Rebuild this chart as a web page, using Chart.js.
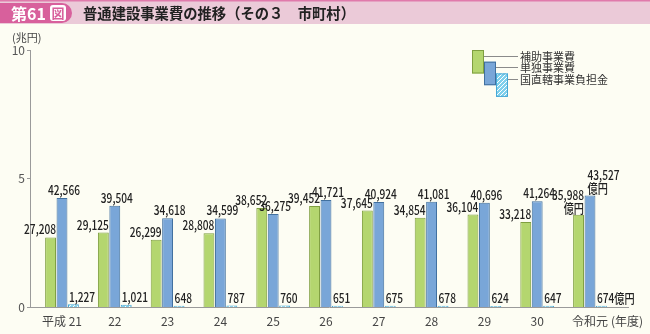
<!DOCTYPE html>
<html>
<head>
<meta charset="utf-8">
<script src="https://cdn.jsdelivr.net/npm/chart.js@4.4.1/dist/chart.umd.min.js"></script>
<style>
html, body { margin: 0; padding: 0; background: #fdfdf3; }
</style>
</head>
<body>
<canvas id="chart" width="650" height="334"></canvas>
<script>
// 億円
var years = ['平成 21', '22', '23', '24', '25', '26', '27', '28', '29', '30', '令和元'];
var hojo = [27208, 29125, 26299, 28808, 38652, 39452, 37645, 34854, 36104, 33218, 35988];
var tandoku = [42566, 39504, 34618, 34599, 36275, 41721, 40924, 41081, 40696, 41264, 43527];
var chokkatsu = [1227, 1021, 648, 787, 760, 651, 675, 678, 624, 647, 674];
var seriesNames = ['補助事業費', '単独事業費', '国直轄事業負担金'];
var yTicks = [0, 5, 10];

var FONT = '"Noto Sans CJK JP", "Noto Sans", sans-serif';
Chart.defaults.font.family = FONT;

var canvas = document.getElementById('chart');
var ctx = canvas.getContext('2d');

function makeHatch() {
    var c = document.createElement('canvas');
    c.width = 4; c.height = 4;
    var g = c.getContext('2d');
    g.fillStyle = '#7fd0ec';
    g.fillRect(0, 0, 4, 4);
    g.strokeStyle = '#ffffff';
    g.lineWidth = 1;
    g.beginPath();
    g.moveTo(0, 4); g.lineTo(4, 0);
    g.moveTo(-1, 1); g.lineTo(1, -1);
    g.moveTo(3, 5); g.lineTo(5, 3);
    g.stroke();
    return ctx.createPattern(c, 'repeat');
}
var hatch = makeHatch();

function toPoints(arr) {
    return arr.map(function (v, i) { return { x: i, y: v / 10000 }; });
}

function narrowText(c, txt, x, y, align) {
    var sx = 0.78;
    var w = c.measureText(txt).width * sx;
    var x0 = align === 'right' ? x - w : (align === 'center' ? x - w / 2 : x);
    c.save();
    c.translate(x0, y);
    c.scale(sx, 1);
    c.textAlign = 'left';
    c.fillText(txt, 0, 0);
    c.restore();
}

var frame = {
    id: 'frame',
    beforeDraw: function (chart) {
        var c = chart.ctx;
        c.save();
        c.fillStyle = '#fdfdf3';
        c.fillRect(0, 0, chart.width, chart.height);
        // title band
        c.fillStyle = '#ebcad8';
        c.fillRect(0, 0, chart.width, 24);
        c.fillStyle = '#e07aab';
        c.fillRect(0, 0, chart.width, 1.5);
        c.fillStyle = '#d8609c';
        c.beginPath();
        c.moveTo(0, 3);
        c.lineTo(62, 3);
        c.arc(62, 13, 10, -Math.PI / 2, Math.PI / 2);
        c.lineTo(0, 23);
        c.closePath();
        c.fill();
        c.fillStyle = '#ffffff';
        c.font = 'bold 16px ' + FONT;
        c.textBaseline = 'middle';
        c.fillText('第61', 11, 13.5);
        c.beginPath();
        c.roundRect(50, 5, 16, 16, 3);
        c.fill();
        c.fillStyle = '#d8609c';
        c.font = 'bold 13px ' + FONT;
        c.fillText('図', 51.5, 13.5);
        c.fillStyle = '#222222';
        c.font = 'bold 15px ' + FONT;
        c.fillText('普通建設事業費の推移（その３　市町村）', 83, 13.5, 272);
        // unit
        c.fillStyle = '#444444';
        c.font = '11px ' + FONT;
        c.fillText('(兆円)', 12, 38);
        c.restore();
    }
};

var valueLabels = {
    id: 'valueLabels',
    afterDatasetsDraw: function (chart) {
        var c = chart.ctx;
        var last = years.length - 1;
        var sources = [hojo, tandoku, chokkatsu];
        c.save();
        c.fillStyle = '#222222';
        c.font = '500 13px ' + FONT;
        c.textBaseline = 'alphabetic';
        chart.data.datasets.forEach(function (ds, d) {
            chart.getDatasetMeta(d).data.forEach(function (bar, i) {
                var txt = sources[d][i].toLocaleString('en-US');
                var left = bar.x - bar.width / 2;
                var right = bar.x + bar.width / 2;
                if (d === 0) {
                    if (i === last) {
                        narrowText(c, txt, right, bar.y - 15, 'right');
                        narrowText(c, '億円', right, bar.y - 2, 'right');
                    } else {
                        narrowText(c, txt, right, bar.y - 3, 'right');
                    }
                } else if (d === 1) {
                    if (i === last) {
                        narrowText(c, txt, left + 3, bar.y - 15, 'left');
                        narrowText(c, '億円', left + 3, bar.y - 2, 'left');
                    } else {
                        narrowText(c, txt, bar.x + 2, bar.y - 3, 'center');
                    }
                } else {
                    narrowText(c, i === last ? txt + '億円' : txt, left + 1, bar.y - 2.5, 'left');
                }
            });
        });
        // (年度)
        var xs = chart.scales.x;
        c.font = '12px ' + FONT;
        c.fillStyle = '#444444';
        c.textBaseline = 'middle';
        var lx = xs.getPixelForValue(last) + c.measureText('令和元').width / 2 + 3;
        c.fillText('(年度)', lx, 321);
        c.restore();
    }
};

var legendBoxes = {
    id: 'legendBoxes',
    afterDraw: function (chart) {
        var c = chart.ctx;
        var ds = chart.data.datasets;
        c.save();
        c.font = '11px ' + FONT;
        c.textBaseline = 'middle';
        for (var k = 0; k < ds.length; k++) {
            var bx = 472 + k * 12, by = 50 + k * 11.7;
            c.fillStyle = ds[k].backgroundColor;
            c.fillRect(bx, by, 12, 23.5);
            c.strokeStyle = ds[k].borderColor;
            c.lineWidth = 1;
            c.strokeRect(bx + 0.5, by + 0.5, 11, 22.5);
            var ly = Math.round(by + 5.5) + 0.5;
            c.strokeStyle = '#8a8a8a';
            c.beginPath();
            c.moveTo(bx + 12, ly);
            c.lineTo(518, ly);
            c.stroke();
            c.fillStyle = '#333333';
            c.fillText(seriesNames[k], 520, ly);
        }
        c.restore();
    }
};

var chart = new Chart(ctx, {
    type: 'bar',
    data: {
        datasets: [
            { label: seriesNames[0], data: toPoints(hojo), backgroundColor: '#b4d66f', borderColor: '#7f9f40', borderWidth: 1 },
            { label: seriesNames[1], data: toPoints(tandoku), backgroundColor: '#79a6d8', borderColor: '#41709f', borderWidth: 1 },
            { label: seriesNames[2], data: toPoints(chokkatsu), backgroundColor: hatch, borderColor: '#46a8d6', borderWidth: 1 }
        ]
    },
    options: {
        responsive: false,
        animation: false,
        events: [],
        layout: { padding: { top: 50, right: 22, bottom: 0, left: 0 } },
        datasets: { bar: { categoryPercentage: 0.65, barPercentage: 0.95 } },
        plugins: { legend: { display: false }, tooltip: { enabled: false } },
        scales: {
            x: {
                type: 'linear',
                bounds: 'data',
                offset: false,
                min: -0.606,
                max: 10.72,
                afterBuildTicks: function (s) { s.ticks = years.map(function (y, i) { return { value: i }; }); },
                grid: { display: false, drawTicks: false, offset: false },
                border: { display: true, color: '#9a9a9a', width: 1 },
                ticks: {
                    autoSkip: false,
                    maxRotation: 0,
                    padding: 7,
                    color: '#444444',
                    font: { size: 12 },
                    callback: function (v) { return years[v] || ''; }
                },
                afterFit: function (s) { s.height = 26.5; }
            },
            y: {
                min: 0,
                max: 10,
                afterBuildTicks: function (s) { s.ticks = yTicks.map(function (v) { return { value: v }; }); },
                grid: { drawOnChartArea: false, tickLength: 3, color: '#9a9a9a' },
                border: { display: true, color: '#9a9a9a', width: 1 },
                ticks: { padding: 2, color: '#555555', font: { size: 12 } },
                afterFit: function (s) { s.width = 30; }
            }
        }
    },
    plugins: [frame, valueLabels, legendBoxes]
});
</script>
</body>
</html>
